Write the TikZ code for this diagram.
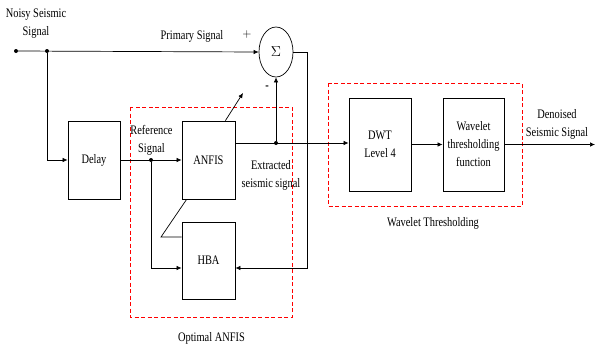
\documentclass[tikz,border=0pt]{standalone}
\usepackage{fontspec}
\setmainfont{Liberation Serif}[FakeStretch=0.8]
\usetikzlibrary{arrows.meta,shapes.geometric}

\tikzset{
  blk/.style={draw,line width=0.8pt,fill=white,align=center,minimum width=53pt,minimum height=78pt,inner sep=0pt},
  lbl/.style={align=center,inner sep=0pt},
  sig/.style={line width=0.7pt},
  arr/.style={sig,-{Latex[length=5pt,width=4.5pt]}},
  grp/.style={red,dashed,line width=0.8pt,dash pattern=on 4pt off 2.5pt},
  dot/.style={circle,fill,inner sep=0pt,minimum size=4pt}
}

\begin{document}
\begin{tikzpicture}[x=1pt,y=-1pt,font=\fontsize{13}{18}\selectfont]
\useasboundingbox (0,0) rectangle (596,348);

% groups
\draw[grp] (130,107) rectangle (292,317);
\draw[grp] (328,83) rectangle (522,206);
\node[lbl] (optlbl) at (211.5,338) {Optimal ANFIS};
\node[lbl] (wtlbl) at (433,223) {Wavelet Thresholding};

% blocks
\node[blk,minimum width=52pt] (delay) at (94,160) {Delay};
\node[blk] (anfis) at (208.5,160) {ANFIS};
\node[blk,minimum height=77pt] (hba) at (208.5,260.5) {HBA};
\node[blk,minimum width=62pt,minimum height=93pt] (dwt) at (380,144.5) {DWT\\Level 4};
\node[blk,minimum width=61pt,minimum height=93pt] (wtf) at (473.5,144.5) {Wavelet\\thresholding\\function};
\node[draw,ellipse,line width=0.7pt,minimum width=34pt,minimum height=50pt,inner sep=0pt] (sum) at (276,52) {\Large$\Sigma$};

% points
\node[dot] (in) at (16,51) {};
\node[dot] (split) at (47,51) {};
\node[dot] (ref) at (151,160) {};
\node[dot] (ext) at (276,143) {};
\coordinate (fb) at (307,268);
\coordinate (adapt) at (161,237);
\coordinate (tip) at (243,93);
\coordinate (out) at (595,144.5);

% connectors
\draw[arr] (in) -- (sum.west);
\draw[arr] (split) |- (delay.west);
\draw[arr] (delay.east) -- (anfis.west);
\draw[arr] (ref) |- (hba.west |- fb);
\draw[arr] (anfis.east |- ext) -- (dwt.west |- ext);
\draw[arr] (ext) -- (sum.south);
\draw[arr] (sum.east) -| (fb) -- (hba.east |- fb);
\draw[arr] (dwt.east) -- (wtf.west);
\draw[arr] (wtf.east) -- (out);

% adaptation
\draw[sig] (hba.west |- adapt) -- (adapt) -- ([xshift=5pt]anfis.south west);
\draw[arr] ([xshift=-10pt]anfis.north east) -- (tip);

% texts
\node[lbl] (noisy) at (36,24) {Noisy Seismic\\Signal};
\node[lbl] (prim) at (192,36) {Primary Signal};
\node[lbl] (plus) at (247,34) {$+$};
\node[lbl] (minus) at (267,88) {\textbf{-}};
\node[lbl] (reflbl) at (151.5,140) {Reference\\Signal};
\node[lbl] (extlbl) at (271,175) {Extracted\\seismic signal};
\node[lbl] (outlbl) at (557,124) {Denoised\\Seismic Signal};
\end{tikzpicture}
\end{document}
